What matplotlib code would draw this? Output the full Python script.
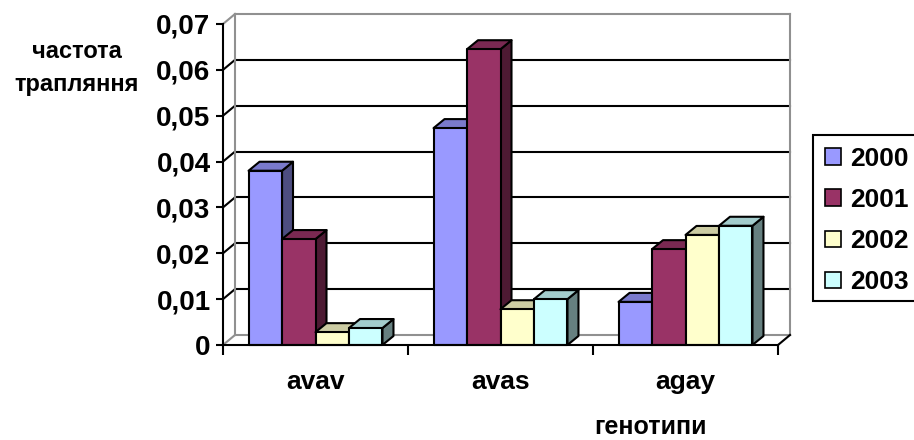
import numpy as np
import matplotlib
matplotlib.use("Agg")
import matplotlib.pyplot as plt
from matplotlib.patches import Polygon, Patch, Rectangle
from matplotlib.lines import Line2D
from matplotlib.transforms import IdentityTransform, offset_copy

plt.rcParams["font.family"] = ["Liberation Sans", "DejaVu Sans"]
plt.rcParams["font.weight"] = "bold"

genotypes = ["avav", "avas", "agay"]
years = ["2000", "2001", "2002", "2003"]
freq = {
    "2000": [0.038, 0.0473, 0.0094],
    "2001": [0.0231, 0.0645, 0.0209],
    "2002": [0.0028, 0.0078, 0.024],
    "2003": [0.0037, 0.010, 0.026],
}
face_colors = ["#9999FF", "#993366", "#FFFFCC", "#CCFFFF"]
y_ticks = [0, 0.01, 0.02, 0.03, 0.04, 0.05, 0.06, 0.07]

DPI = 100
W, H = 914, 440
DX, DY = 12, 10        # wall depth in pixels
BDX, BDY = 11, 9       # bar depth in pixels
GRID = "#909090"

fig = plt.figure(figsize=(W / DPI, H / DPI), dpi=DPI)
ax = fig.add_axes([223 / W, (H - 345) / H, (778 - 223) / W, (345 - 24) / H])
ax.set_xlim(0, 3)
ax.set_ylim(0, 0.07)
ax.patch.set_visible(False)
for s in ["top", "right"]:
    ax.spines[s].set_visible(False)
for s in ["left", "bottom"]:
    ax.spines[s].set_color("black")
    ax.spines[s].set_linewidth(1.5)
    ax.spines[s].set_zorder(5)

back = offset_copy(ax.transData, fig, x=DX * 72 / DPI, y=DY * 72 / DPI, units="points")


def px(x, v, dx=0, dy=0):
    p = ax.transData.transform((x, v))
    return (p[0] + dx, p[1] + dy)


def seg(points, **kw):
    xs, ys = zip(*points)
    ax.add_line(Line2D(xs, ys, transform=IdentityTransform(), **kw))


# walls: gray outline, black grid lines
for v in y_ticks:
    col = GRID if v in (0, 0.07) else "black"
    ax.plot([0, 3], [v, v], transform=back, color=col, lw=1.5, zorder=1, clip_on=False)
    seg([px(0, v), px(0, v, DX, DY)], color=col, lw=1.5, zorder=1, clip_on=False)
ax.plot([0, 0], [0, 0.07], transform=back, color=GRID, lw=1.5, zorder=1, clip_on=False)
ax.plot([3, 3], [0, 0.07], transform=back, color=GRID, lw=1.5, zorder=1, clip_on=False)
seg([px(3, 0), px(3, 0, DX, DY)], color="black", lw=1.5, zorder=1, clip_on=False)


def shade(c, f):
    r, g, b = matplotlib.colors.to_rgb(c)
    return (r * f, g * f, b * f)


# bars, left to right so each covers the previous one's side face
bw = 0.181
for gi in range(len(genotypes)):
    x0 = gi + 0.5 - 2 * bw
    for yi, yr in enumerate(years):
        v = freq[yr][gi]
        a, b = x0 + yi * bw, x0 + (yi + 1) * bw
        c = face_colors[yi]
        kw = dict(transform=IdentityTransform(), ec="black", lw=1.5, joinstyle="round",
                  zorder=3, clip_on=False)
        side = [px(b, 0), px(b, v), px(b, v, BDX, BDY), px(b, 0, BDX, BDY)]
        top = [px(a, v), px(b, v), px(b, v, BDX, BDY), px(a, v, BDX, BDY)]
        front = [px(a, 0), px(b, 0), px(b, v), px(a, v)]
        ax.add_patch(Polygon(side, fc=shade(c, 0.5), **kw))
        ax.add_patch(Polygon(top, fc=shade(c, 0.8), **kw))
        ax.add_patch(Polygon(front, fc=c, **kw))

ax.set_yticks(y_ticks)
ax.set_yticklabels(["0"] + [f"{t:.2f}".replace(".", ",") for t in y_ticks[1:]])
ax.tick_params(axis="y", length=5, width=1.5, pad=4, labelsize=20)
ax.set_xticks([0.5, 1.5, 2.5])
ax.set_xticklabels(genotypes)
ax.set_xticks([0, 1, 2, 3], minor=True)
ax.tick_params(axis="x", which="major", length=0, pad=18, labelsize=19)
ax.tick_params(axis="x", which="minor", length=7, width=1.5)

fig.text(77 / W, 1 - 68 / H, "частота\nтрапляння", ha="center", va="center",
         fontsize=17, fontweight="bold", linespacing=1.55)
fig.text(650 / W, 1 - 427 / H, "генотипи", ha="center", va="center",
         fontsize=18, fontweight="bold")

# legend box runs off the right edge of the figure
fig.add_artist(Rectangle((813 / W, 1 - 301 / H), 120 / W, 166 / H, transform=fig.transFigure,
                         fc="white", ec="black", lw=1.5, zorder=4))
handles = [Patch(fc=c, ec="black", lw=1.2) for c in face_colors]
leg = fig.legend(handles, years, loc="upper left", bbox_to_anchor=(813 / W, 1 - 135 / H),
                 fontsize=19, handlelength=0.6, handleheight=0.6, handletextpad=0.34,
                 labelspacing=0.65, borderpad=0.45, borderaxespad=0, frameon=False)
leg.set_zorder(5)

fig.savefig("out.png", dpi=DPI)
